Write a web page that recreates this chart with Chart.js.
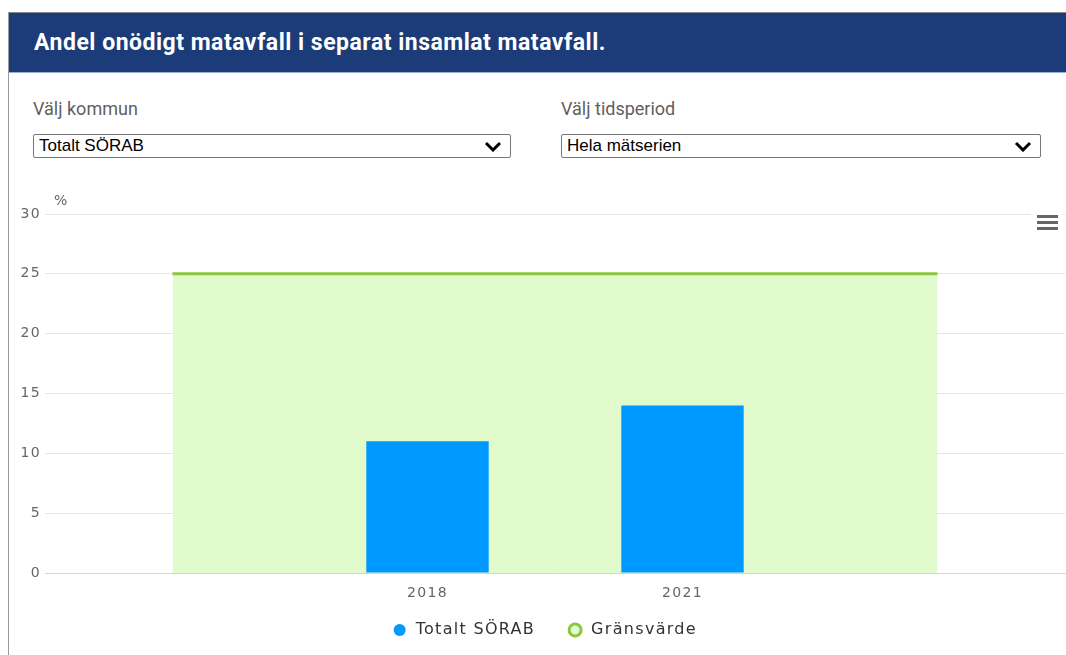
<!DOCTYPE html>
<html>
<head>
<meta charset="utf-8">
<script src="https://cdn.jsdelivr.net/npm/chart.js@4"></script>
<style>
  html, body { margin: 0; padding: 0; background: #fff; }
  body { width: 1066px; height: 655px; overflow: hidden; position: relative; font-family: Roboto, sans-serif; }
  .panel { position: absolute; left: 8px; top: 12px; width: 1070px; height: 660px; border-left: 1px solid #9a9a9a; border-top: 1px solid #8a8a8a; }
  .head { position: absolute; left: 9px; top: 13px; width: 1057px; height: 59px; background: #1b3c78; border-bottom: 1px solid #9bb0cf; }
  .head span { position: absolute; left: 25px; top: 16px; color: #fff; font: bold 23px Roboto, sans-serif; letter-spacing: 0.5px; white-space: nowrap; }
  .lbl { position: absolute; top: 98px; color: #5f5f5f; font: 18px Roboto, sans-serif; }
  .sel { position: absolute; top: 134px; height: 24px; border: 1px solid #767676; border-radius: 2px; box-sizing: border-box;
         font: 17px "Liberation Sans", Arial, sans-serif; color: #000; line-height: 22px; padding-left: 5px; }
  .sel svg { position: absolute; right: 8px; top: 6px; }
  .wrap { position: absolute; left: 9px; top: 180px; width: 1057px; height: 492px; }
  .menu { position: absolute; left: 1031px; top: 207px; width: 32px; height: 26px; background: #fff; }
  .menu i { position: absolute; left: 6px; width: 21px; height: 3px; background: #666; }
</style>
</head>
<body>
<div class="panel"></div>
<div class="head"><span>Andel onödigt matavfall i separat insamlat matavfall.</span></div>
<div class="lbl" style="left:33px">Välj kommun</div>
<div class="lbl" style="left:561px">Välj tidsperiod</div>
<div class="sel" style="left:33px;width:478px">Totalt SÖRAB<svg width="18" height="11" viewBox="0 0 18 11"><path d="M2 2 L9 9 L16 2" stroke="#000" stroke-width="3" fill="none"/></svg></div>
<div class="sel" style="left:561px;width:480px">Hela mätserien<svg width="18" height="11" viewBox="0 0 18 11"><path d="M2 2 L9 9 L16 2" stroke="#000" stroke-width="3" fill="none"/></svg></div>
<div class="wrap"><canvas id="chart"></canvas></div>
<div class="menu"><i style="top:8px"></i><i style="top:14px"></i><i style="top:20px"></i></div>
<script>
// kategorier (tomma ändar så att gränsvärdesytan sträcker sig ut)
var categories = ['', '2018', '2021', ''];
var sorabValues = [null, 11, 14, null];
var limitValues = [25, 25, 25, 25];
var yTicks = [0, 5, 10, 15, 20, 25, 30];

var spacing = {
    id: 'spacing',
    beforeDraw: (chart) => { chart.ctx.letterSpacing = '1.3px'; }
};

// flytta legenden lite närmare x-axeln
var legendNudge = {
    id: 'legendNudge',
    afterLayout: (chart) => {
        var lg = chart.legend;
        lg.top -= 17; lg.bottom -= 17;
        lg.left -= 7; lg.right -= 7;
    }
};

var unitLabel = {
    id: 'unitLabel',
    afterDraw: (chart) => {
        var ctx = chart.ctx;
        ctx.save();
        ctx.letterSpacing = '0px';
        ctx.font = '14px "DejaVu Sans"';
        ctx.fillStyle = '#666';
        ctx.textBaseline = 'middle';
        ctx.fillText('%', chart.chartArea.left + 9, chart.chartArea.top - 13);
        ctx.restore();
    }
};

var ctx = document.getElementById('chart').getContext('2d');
new Chart(ctx, {
    data: {
        labels: categories,
        datasets: [
            {
                type: 'bar',
                label: 'Totalt SÖRAB',
                data: sorabValues,
                backgroundColor: '#0099ff',
                borderWidth: 0,
                barPercentage: 0.48,
                categoryPercentage: 1,
                order: 1
            },
            {
                type: 'line',
                label: 'Gränsvärde',
                data: limitValues,
                borderColor: '#8cc63f',
                backgroundColor: '#e1fbcd',
                borderWidth: 3,
                fill: 'origin',
                pointRadius: 0,
                order: 2
            }
        ]
    },
    options: {
        responsive: true,
        maintainAspectRatio: false,
        animation: false,
        layout: { padding: { top: 34, right: 1, bottom: 7, left: 0 } },
        plugins: {
            tooltip: { enabled: false },
            legend: {
                position: 'bottom',
                labels: {
                    usePointStyle: true,
                    pointStyle: 'circle',
                    boxWidth: 16,
                    boxHeight: 8.5,
                    padding: 32,
                    color: '#333',
                    font: { family: 'DejaVu Sans', size: 16 }
                }
            }
        },
        scales: {
            x: {
                grid: { display: false, drawTicks: false },
                border: { color: '#ccd6eb', width: 1 },
                ticks: { color: '#666', padding: 12, font: { family: 'DejaVu Sans', size: 14 } },
                afterFit: (scale) => { scale.height = 34; }
            },
            y: {
                min: 0,
                max: 30,
                afterBuildTicks: (scale) => { scale.ticks = yTicks.map(v => ({ value: v })); },
                grid: { color: '#e6e6e6', drawTicks: false },
                border: { display: false },
                ticks: { color: '#666', padding: 4, font: { family: 'DejaVu Sans', size: 14 } },
                afterFit: (scale) => { scale.width = 36; }
            }
        }
    },
    plugins: [spacing, legendNudge, unitLabel]
});
</script>
</body>
</html>
